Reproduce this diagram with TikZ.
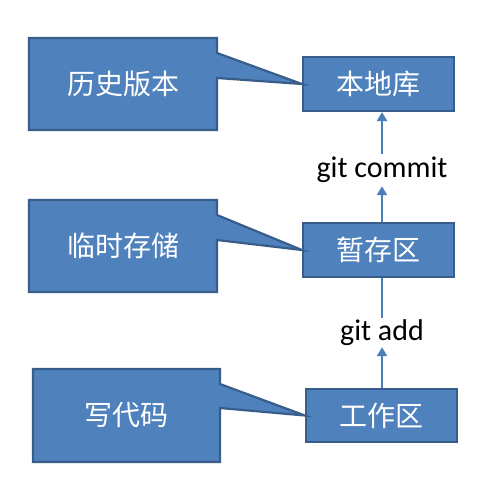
\documentclass[tikz,border=0pt]{standalone}
\usepackage{fontspec}
\setmainfont{Carlito}
\newfontfamily\cjk{Noto Sans CJK SC}
\usetikzlibrary{arrows.meta,calc}
\definecolor{boxfill}{HTML}{4F81BD}
\definecolor{boxline}{HTML}{385D8A}
\definecolor{arrowc}{HTML}{4A7EBB}
\tikzset{
  boxnode/.style={draw=boxline,fill=boxfill,line width=2.2pt,minimum width=151pt,minimum height=54pt,inner sep=0pt,
    font=\cjk\fontsize{28}{30}\selectfont,text=white},
  calloutshape/.style={draw=boxline,fill=boxfill,line width=2.2pt,line join=miter},
  callouttext/.style={font=\cjk\fontsize{28}{30}\selectfont,text=white,inner sep=0pt},
  gitlabel/.style={font=\fontsize{30}{32}\selectfont,text=black,inner sep=0pt,minimum width=10pt},
  flow/.style={draw=arrowc,line width=2.4pt,-{Triangle[length=9pt,width=10pt]}},
  seg/.style={draw=arrowc,line width=2.4pt}
}
\begin{document}
\begin{tikzpicture}[x=1pt,y=-1pt]
\useasboundingbox (0,0) rectangle (502,487);
% right boxes
\node[boxnode] (repo) at (378.5,84) {本地库};
\node[boxnode] (stage) at (378.5,250) {暂存区};
\node[boxnode,minimum height=53pt] (work) at (381.5,415.5) {工作区};
% labels
\node[gitlabel,minimum height=32pt] (commit) at (382,170) {git commit};
\node[gitlabel,minimum height=29pt] (add) at (382,332.5) {git add};
% arrows
\draw[flow] (stage.north -| commit.south) -- (commit.south);
\draw[flow] (commit.north) -- (repo.south -| commit.north);
\draw[flow] (work.north -| add.south) -- (add.south);
\draw[seg] (add.north) -- (stage.south -| add.north);
% callouts
\draw[calloutshape] (29,38) -- (217,38) -- (217,53) -- (repo.west) -- (217,78) -- (217,130) -- (29,130) -- cycle;
\node[callouttext] (hist) at (123,84) {历史版本};
\draw[calloutshape] (29,200) -- (217,200) -- (217,215) -- (stage.west) -- (217,240) -- (217,292) -- (29,292) -- cycle;
\node[callouttext] (temp) at (123,246) {临时存储};
\draw[calloutshape] (33,369) -- (220,369) -- (220,384) -- (work.west) -- (220,408) -- (220,462) -- (33,462) -- cycle;
\node[callouttext] (code) at (126.5,415.5) {写代码};
\end{tikzpicture}
\end{document}
